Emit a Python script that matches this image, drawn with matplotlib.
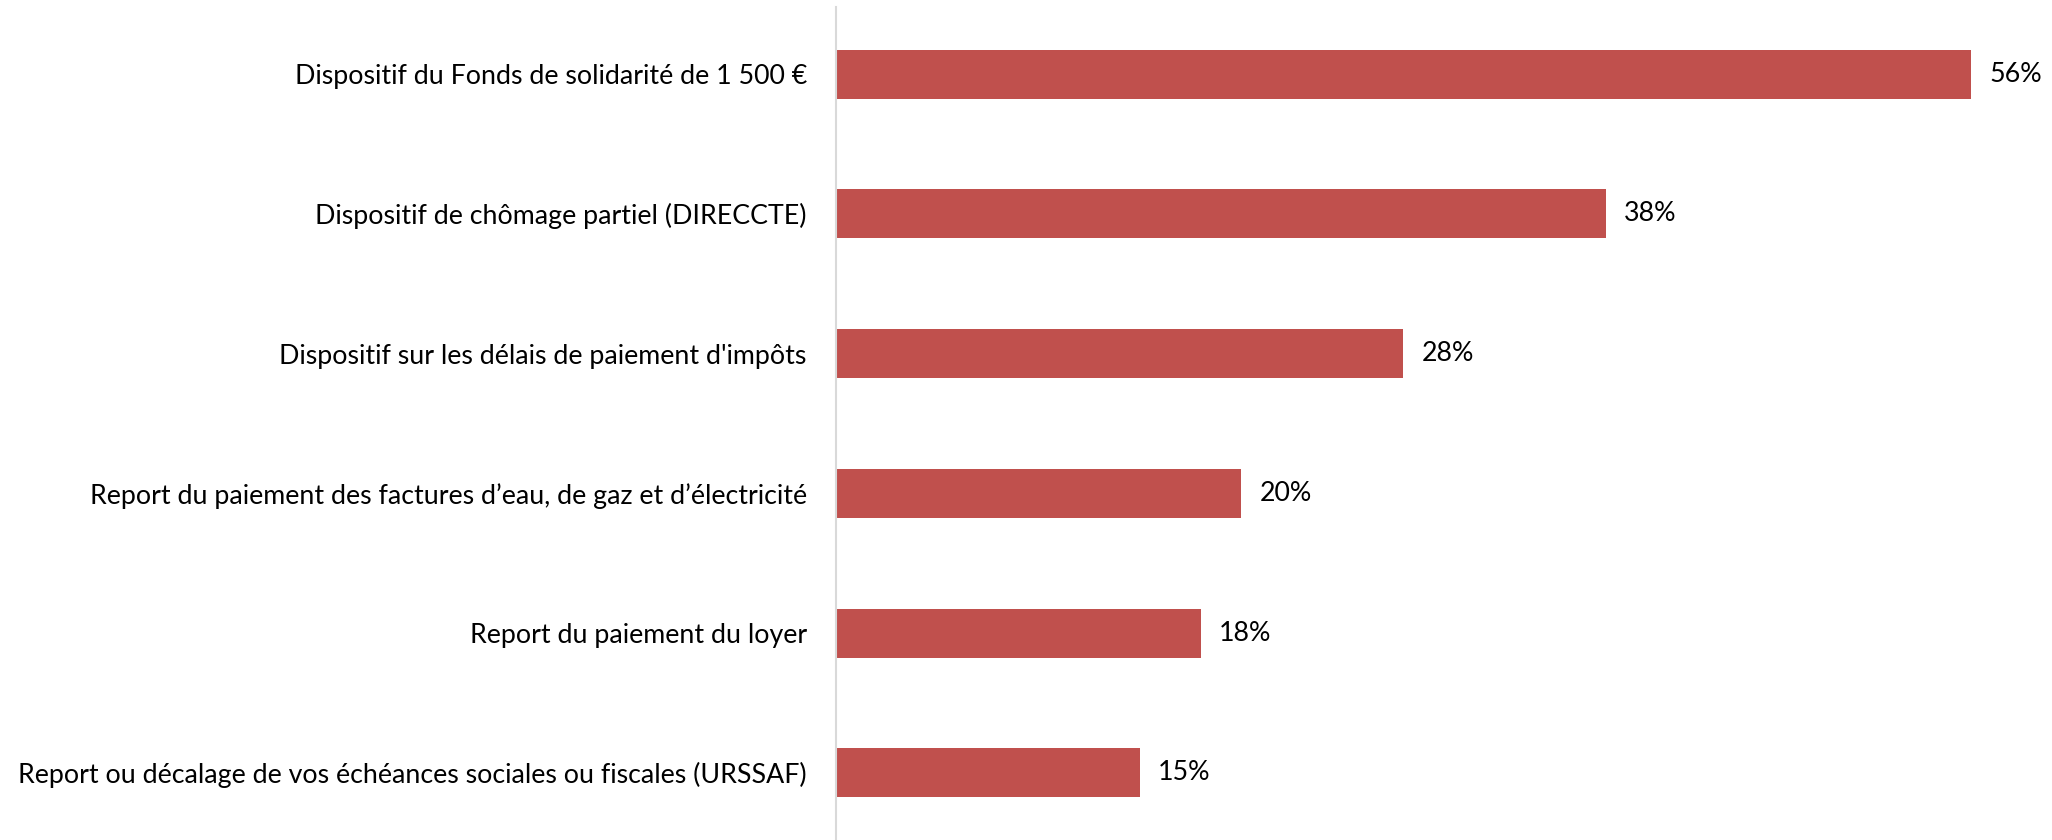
import matplotlib
matplotlib.use("Agg")
import matplotlib.pyplot as plt

categories = [
    "Dispositif du Fonds de solidarité de 1 500 €",
    "Dispositif de chômage partiel (DIRECCTE)",
    "Dispositif sur les délais de paiement d'impôts",
    "Report du paiement des factures d\u2019eau, de gaz et d\u2019électricité",
    "Report du paiement du loyer",
    "Report ou décalage de vos échéances sociales ou fiscales (URSSAF)",
]
values = [56, 38, 28, 20, 18, 15]

plt.rcParams["font.family"] = ["Lato", "DejaVu Sans"]

fig = plt.figure(figsize=(20.52, 8.4), dpi=100)
ax = fig.add_axes([836 / 2052, 0.0, 1 - 836 / 2052, 1 - 7 / 840])

y = list(range(len(categories)))
ax.barh(y, values, height=0.35, color="#C0504D")

for yi, v in zip(y, values):
    ax.text(v + 0.9, yi, f"{v}%", va="center", ha="left", fontsize=19.3, color="black")

ax.set_yticks(y)
ax.set_yticklabels(categories, fontsize=19.3)
ax.tick_params(axis="y", length=0, pad=21)
ax.set_ylim(5.48, -0.48)
ax.set_xlim(0, 60.0)
ax.set_xticks([])

for s in ["top", "right", "bottom"]:
    ax.spines[s].set_visible(False)
ax.spines["left"].set_color("#D9D9D9")
ax.spines["left"].set_linewidth(1.5)

fig.savefig("out.png", dpi=100)
